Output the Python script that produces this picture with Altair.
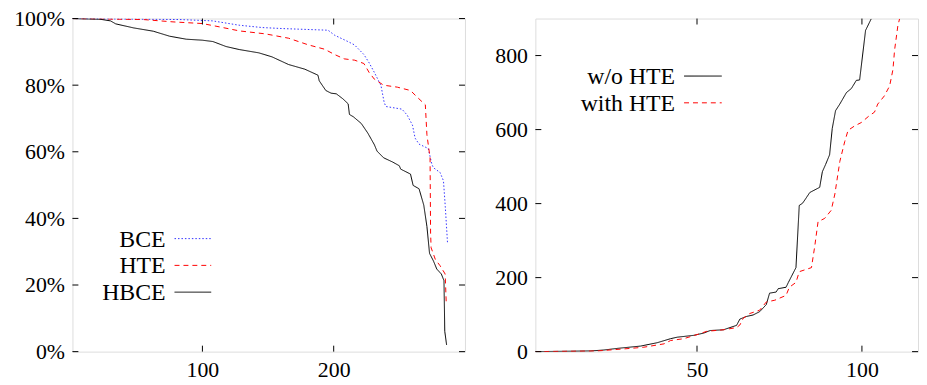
import altair as alt
import pandas as pd

# ---------------- Left panel data (percent vs. instance rank) ----------------
left_series = ["BCE", "HTE", "HBCE"]
left_colors = ["#3333ff", "#ff0000", "#000000"]
left_dashes = [[1.5, 2], [5, 4], [1, 0]]

bce_x = [1, 82.7, 107.8, 128, 145.5, 160.6, 195.7, 200.7, 210.8, 215.8, 223, 227, 231, 236,
         238.4, 239.7, 252, 256, 260, 262, 265, 272, 274.8, 276, 281, 283.6, 285, 286.7]
bce_y = [100, 99.7, 99.3, 98.0, 97.3, 97.0, 96.5, 95.0, 93.1, 92.1, 89.2, 86.7, 83.8, 79.9,
         74.9, 73.6, 72.8, 71.0, 68.0, 64.1, 62.3, 61.0, 56.2, 55.2, 53.8, 51.3, 43.5, 32.6]

hte_x = [1, 55, 77.6, 100, 113, 128, 148, 165.6, 180.7, 193, 200.7, 208, 216, 223, 227, 231,
         238, 248.5, 258.5, 263.6, 269.8, 271, 273.4, 273.8, 274.2, 277.4, 281, 284.9, 285.7]
hte_y = [100, 99.7, 99.0, 98.5, 97.5, 96.3, 95.4, 94.1, 92.1, 90.8, 89.2, 87.9, 87.5, 86.5, 83.8,
         81.8, 80.0, 79.4, 78.4, 76.4, 74.1, 65.1, 58.2, 35.6, 31.2, 27.7, 25.8, 23.3, 14.9]

hbce_x = [1, 22, 30, 34, 47.5, 62.6, 75, 87.7, 100, 108, 118, 128, 143, 153, 165.6, 178, 188,
          189, 194, 198, 202, 207, 211, 212, 215, 221, 226, 231, 233, 238, 245, 250, 251, 258.5,
          260.5, 265, 268.6, 271, 273, 276, 278.5, 282, 284, 284.6, 286]
hbce_y = [100, 99.8, 99.3, 98.4, 97.2, 96.2, 94.7, 93.8, 93.5, 93.1, 91.6, 90.7, 89.7, 88.5,
          86.2, 84.8, 83.0, 81.3, 78.4, 77.6, 77.4, 75.9, 74.4, 71.2, 70.5, 68.5, 65.6, 62.1,
          60.2, 58.2, 56.9, 55.8, 54.8, 53.3, 49.9, 48.9, 44.0, 37.6, 29.5, 27.2, 24.8, 23.3,
          21.3, 6.1, 2.0]

left_xticks = [100, 200]
left_yticks = [0, 20, 40, 60, 80, 100]

# ---------------- Right panel data ----------------
right_series = ["w/o HTE", "with HTE"]
right_colors = ["#000000", "#ff0000"]
right_dashes = [[1, 0], [5, 4]]

wo_x = [1, 17.8, 21.8, 25.9, 32.9, 37.9, 42, 44, 49, 52, 54, 58, 60, 62, 63, 65, 67, 69, 71, 72,
        74, 74.6, 77, 77.7, 80, 81, 82, 82.7, 84.2, 87.2, 88, 89, 90.2, 91, 92, 93.3, 95.3, 96.8,
        98.3, 99.3, 101.1, 102.8]
wo_y = [0, 1.8, 4.4, 8.8, 15, 24, 35, 39, 44, 50, 57, 59, 65, 71, 88, 95, 99, 108, 127, 158,
        161, 170, 174, 187, 227, 395, 401, 410, 430, 444, 486, 506, 532, 603, 651, 669, 700, 711,
        733, 734, 868, 899]

with_x = [1, 19.8, 29.9, 33.9, 40, 42, 46, 50, 53, 58, 62, 63, 64, 66, 69, 71, 73.6, 77, 78, 80,
          81, 84.7, 85.7, 86.7, 88.7, 90.7, 91.8, 93.3, 94.8, 95.8, 97.8, 99.8, 102.3, 103.8,
          104.8, 106.8, 108.4, 109.4, 109.9, 110.9, 111.4]
with_y = [0, 1.8, 8.8, 12, 21, 30, 35, 46, 55, 59, 65, 72, 90, 103, 112, 134, 139, 152, 174, 187,
          216, 227, 285, 351, 360, 382, 426, 514, 568, 598, 610, 619, 638, 647, 669, 691, 718,
          762, 815, 881, 899]

right_xticks = [50, 100]
right_yticks = [0, 200, 400, 600, 800]

FONT = ("'Liberation Serif', 'Noto Serif', 'DejaVu Serif', FreeSerif, 'Nimbus Roman', "
        "Tinos, 'Times New Roman', Times, serif")
AFS = 22   # axis label size
LFS = 24   # key label size
TL = 6     # inner tick length
H = 336


def make_df(names, xs, ys):
    rows = []
    for n, xx, yy in zip(names, xs, ys):
        for i, (a, b) in enumerate(zip(xx, yy)):
            rows.append({"series": n, "x": a, "y": b, "i": i})
    return pd.DataFrame(rows)


def panel(df, names, colors, dashes, xdom, ydom, xticks, yticks, W, H, ylabel_expr,
          legend_pos):
    xs = alt.Scale(domain=xdom, nice=False, zero=False)
    ys = alt.Scale(domain=ydom, nice=False, zero=False)
    xaxis = alt.Axis(values=xticks, title=None, ticks=False, domain=False, grid=False,
                     labelPadding=8, labelFont=FONT, labelFontSize=AFS, labelColor="black")
    yaxis_kw = dict(values=yticks, title=None, ticks=False, domain=False, grid=False,
                    labelPadding=8, labelFont=FONT, labelFontSize=AFS, labelColor="black")
    if ylabel_expr:
        yaxis_kw["labelExpr"] = ylabel_expr
    yaxis = alt.Axis(**yaxis_kw)

    lines = alt.Chart(df).mark_line(strokeWidth=1, clip=True).encode(
        x=alt.X("x:Q", scale=xs, axis=xaxis),
        y=alt.Y("y:Q", scale=ys, axis=yaxis),
        color=alt.Color("series:N", scale=alt.Scale(domain=names, range=colors), legend=None),
        strokeDash=alt.StrokeDash("series:N", scale=alt.Scale(domain=names, range=dashes),
                                  legend=None),
        detail="series:N",
        order="i:Q",
    )

    xt = pd.DataFrame({"v": xticks})
    yt = pd.DataFrame({"v": yticks})
    tick_layers = [
        alt.Chart(xt).mark_rule(color="black", strokeWidth=1).encode(
            x=alt.X("v:Q", scale=xs, axis=xaxis), y=alt.value(H), y2=alt.value(H - TL)),
        alt.Chart(xt).mark_rule(color="black", strokeWidth=1).encode(
            x=alt.X("v:Q", scale=xs, axis=xaxis), y=alt.value(0), y2=alt.value(TL)),
        alt.Chart(yt).mark_rule(color="black", strokeWidth=1).encode(
            y=alt.Y("v:Q", scale=ys, axis=yaxis), x=alt.value(0), x2=alt.value(TL)),
        alt.Chart(yt).mark_rule(color="black", strokeWidth=1).encode(
            y=alt.Y("v:Q", scale=ys, axis=yaxis), x=alt.value(W - TL), x2=alt.value(W)),
    ]

    # gnuplot-style key: label on the left, line sample on the right
    tx, lx1, lx2, y0, dy = legend_pos
    leg = []
    one = pd.DataFrame({"a": [0]})
    for k, (n, c, d) in enumerate(zip(names, colors, dashes)):
        leg.append(alt.Chart(one).mark_text(align="right", baseline="alphabetic", font=FONT,
                                            fontSize=LFS, color="black").encode(
            x=alt.value(tx), y=alt.value(y0 + k * dy), text=alt.value(n)))
        leg.append(alt.Chart(one).mark_rule(stroke=c, strokeDash=d, strokeWidth=1).encode(
            x=alt.value(lx1), x2=alt.value(lx2), y=alt.value(y0 + k * dy - 8)))

    return alt.layer(lines, *tick_layers, *leg).properties(width=W, height=H)


left_df = make_df(left_series, [bce_x, hte_x, hbce_x], [bce_y, hte_y, hbce_y])
right_df = make_df(right_series, [wo_x, with_x], [wo_y, with_y])

left = panel(left_df, left_series, left_colors, left_dashes, [1, 300], [0, 100],
             left_xticks, left_yticks, 396, H, "datum.value + '%'",
             (94, 103, 140, 230, 27))
right = panel(right_df, right_series, right_colors, right_dashes, [1, 117], [0, 900],
              right_xticks, right_yticks, 386, H, None,
              (141, 150, 188, 66, 27))

chart = alt.hconcat(left, right, spacing=28).resolve_scale(
    color="independent", strokeDash="independent"
).properties(
    padding={"top": -3, "left": 5, "right": 0, "bottom": 0}
).configure_view(stroke="black", strokeWidth=1).configure(background="white")

chart.save("out.html", embed_options={"renderer": "svg", "actions": False})
